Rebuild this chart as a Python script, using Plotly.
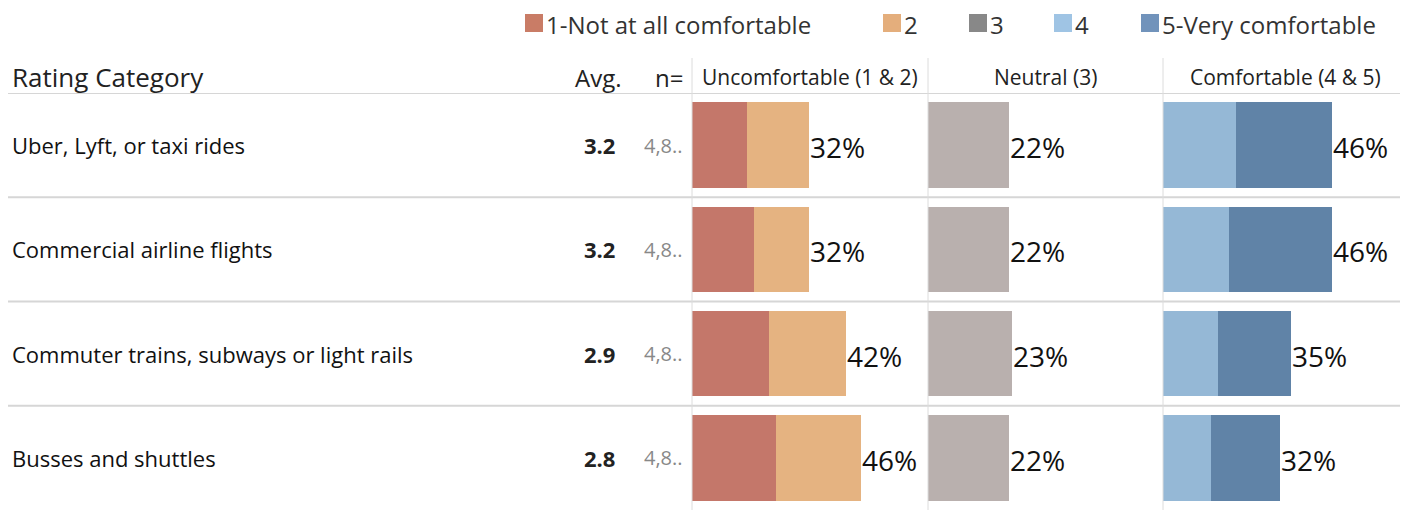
import plotly.graph_objects as go

categories = ["Uber, Lyft, or taxi rides", "Commercial airline flights",
              "Commuter trains, subways or light rails", "Busses and shuttles"]
avg = [3.2, 3.2, 2.9, 2.8]
n_labels = ["4,8..", "4,8..", "4,8..", "4,8.."]
r1 = [15, 17, 21, 23]
r2 = [17, 15, 21, 23]
r3 = [22, 22, 23, 22]
r4 = [20, 18, 15, 13]
r5 = [26, 28, 20, 19]
legend_names = ["1-Not at all comfortable", "2", "3", "4", "5-Very comfortable"]
panel_titles = ["Uncomfortable (1 & 2)", "Neutral (3)", "Comfortable (4 & 5)"]

C1, C2, C3, C4, C5 = "#c4776a", "#e5b381", "#b9b0ae", "#95b8d6", "#6083a7"
LEG_COLORS = ["#c97c66", "#e4ae7c", "#888888", "#9fc4e4", "#7193bb"]
LEG_X = [525, 883, 969, 1054, 1141]   # legend square left edges (reference px)
FONT = "Open Sans"

# the page body has an 8px margin; build the figure in reference pixels shifted by it
OFF = 8
W, H = 1408 - OFF, 510 - OFF


def px(x):
    return (x - OFF) / W


def py(y):
    return 1 - (y - OFF) / H


fig = go.Figure()


def bar(vals, color, xa, name):
    fig.add_trace(go.Bar(y=categories, x=vals, orientation="h", xaxis=xa, yaxis="y",
                         marker=dict(color=color, line=dict(width=0)), width=0.82,
                         name=name, showlegend=False, hoverinfo="x+y"))


bar(r1, C1, "x", legend_names[0])
bar(r2, C2, "x", legend_names[1])
bar(r3, C3, "x2", legend_names[2])
bar(r4, C4, "x3", legend_names[3])
bar(r5, C5, "x3", legend_names[4])

tot1 = [a + b for a, b in zip(r1, r2)]
tot3 = [a + b for a, b in zip(r4, r5)]

div = [692, 928, 1163, 1408]
scale = 3.67  # px per percent
for i, key in enumerate(["xaxis", "xaxis2", "xaxis3"]):
    fig.layout[key] = dict(domain=[px(div[i]), px(div[i + 1])],
                           range=[0, (div[i + 1] - div[i]) / scale],
                           visible=False, fixedrange=True, anchor="y")

fig.update_layout(
    width=W, height=H, autosize=False,
    margin=dict(l=0, r=0, t=0, b=0),
    paper_bgcolor="white", plot_bgcolor="white",
    barmode="stack",
    showlegend=False,
    font=dict(family=FONT, size=18, color="#222222"),
    yaxis=dict(type="category", categoryarray=categories, range=[3.5, -0.5],
               domain=[0, py(93)], visible=False, fixedrange=True),
)

shapes = []
for yv in [-0.5, 0.5, 1.5, 2.5]:
    shapes.append(dict(type="line", xref="paper", yref="y", x0=0, x1=1, y0=yv, y1=yv,
                       line=dict(color="#d6d6d6", width=2)))
for xv in div[:3]:
    shapes.append(dict(type="line", xref="paper", yref="paper", x0=px(xv), x1=px(xv),
                       y0=0, y1=py(58), line=dict(color="#dcdcdc", width=1)))

ann = []
# percent labels at the end of each panel's bar
for tots, xa in [(tot1, "x"), (r3, "x2"), (tot3, "x3")]:
    for i, t in enumerate(tots):
        ann.append(dict(text=f"{t}%", x=t, y=i, xref=xa, yref="y", xanchor="left",
                        yanchor="middle", yshift=-2, xshift=-1, showarrow=False,
                        font=dict(family=FONT, size=28, color="#111111")))

# manual legend
for name, col, lx in zip(legend_names, LEG_COLORS, LEG_X):
    shapes.append(dict(type="rect", xref="paper", yref="paper",
                       x0=px(lx), x1=px(lx + 18), y0=py(32), y1=py(14),
                       fillcolor=col, line=dict(width=0)))
    ann.append(dict(text=name, x=px(lx + 19), y=py(25), xref="paper", yref="paper",
                    xanchor="left", yanchor="middle", showarrow=False,
                    font=dict(family=FONT, size=24, color="#333333")))
fig.update_layout(shapes=shapes)

hy = py(77)
ann.append(dict(text="Rating Category", x=px(10), y=hy, xref="paper", yref="paper",
                xanchor="left", yanchor="middle", showarrow=False,
                font=dict(family=FONT, size=26, color="#222222")))
ann.append(dict(text="Avg.", x=px(624), y=hy, xref="paper", yref="paper",
                xanchor="right", yanchor="middle", showarrow=False,
                font=dict(family=FONT, size=24, color="#222222")))
ann.append(dict(text="n=", x=px(685), y=hy, xref="paper", yref="paper",
                xanchor="right", yanchor="middle", showarrow=False,
                font=dict(family=FONT, size=24, color="#222222")))
for i, t in enumerate(panel_titles):
    cx = px((div[i] + div[i + 1]) / 2)
    ann.append(dict(text=t, x=cx, y=hy, xref="paper", yref="paper",
                    xanchor="center", yanchor="middle", showarrow=False,
                    font=dict(family=FONT, size=21, color="#222222")))
for i, c in enumerate(categories):
    ann.append(dict(text=c, x=px(10), y=i, xref="paper", yref="y", xanchor="left",
                    yanchor="middle", showarrow=False,
                    font=dict(family=FONT, size=22, color="#111111")))
    ann.append(dict(text=f"<b>{avg[i]:.1f}</b>", x=px(617), y=i, xref="paper", yref="y",
                    xanchor="right", yanchor="middle", showarrow=False,
                    font=dict(family=FONT, size=22, color="#222222")))
    ann.append(dict(text=n_labels[i], x=px(685), y=i, xref="paper", yref="y",
                    xanchor="right", yanchor="middle", showarrow=False,
                    font=dict(family=FONT, size=20, color="#888888")))
fig.update_layout(annotations=ann)

fig.write_html("out.html")
